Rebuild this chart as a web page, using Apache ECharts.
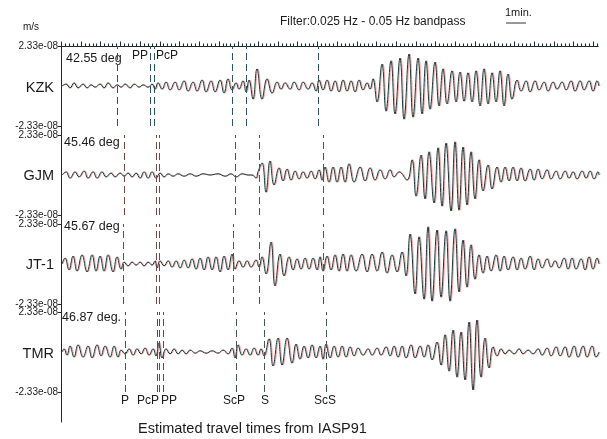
<!DOCTYPE html>
<html><head><meta charset="utf-8">
<script src="https://cdn.jsdelivr.net/npm/echarts@6/dist/echarts.min.js"></script>
<style>html,body{margin:0;padding:0;background:#fff}#c{width:607px;height:439px}</style>
</head><body><div id="c"></div>
<script>
// sampling: one sample index = 60/19.7 s (ruler: 1 min per major tick)
const DT = 60 / 19.7;
const CLIP = 2.33e-8; // m/s, amplitude = percent of clip level
const stations = ['KZK', 'GJM', 'JT-1', 'TMR'];
const distances = ['42.55 deg', '45.46 deg', '45.67 deg', '46.87 deg.'];

// [sample index, amplitude % of 2.33e-08 m/s] at successive peaks/troughs
const kzk = [[1,0],[5,5],[9,-5],[13,8],[17,-5],[22,5],[26,-5],[30,3],[34,-3],[39,5],[43,-5],[47,8],[52,-5],[56,3],[60,-3],[64,5],[69,-5],[73,5],[78,-3],[82,3],[87,-3],[91,5],[94,-8],[97,8],[101,-8],[105,10],[109,-10],[114,10],[118,-10],[123,13],[127,-13],[132,10],[136,-13],[141,15],[145,-15],[150,13],[154,-15],[159,15],[163,-18],[167,18],[171,-10],[175,8],[178,-8],[182,13],[185,-15],[188,15],[192,-33],[196,43],[201,-33],[206,18],[211,-18],[216,10],[220,-8],[224,8],[229,-8],[233,10],[238,-10],[242,10],[247,-8],[251,8],[255,-13],[258,15],[262,-10],[266,15],[270,-13],[274,13],[278,-15],[282,15],[286,-13],[290,13],[294,-15],[298,15],[302,-10],[306,8],[309,-8],[312,18],[316,-40],[321,55],[325,-63],[330,63],[334,-70],[339,70],[343,-83],[348,80],[352,-78],[357,70],[361,-70],[365,63],[369,-58],[374,60],[378,-50],[382,43],[386,-45],[391,38],[395,-40],[399,35],[403,-38],[407,33],[411,-40],[415,38],[419,-50],[423,43],[427,-45],[431,33],[435,-40],[439,38],[443,-50],[447,30],[451,-33],[456,15],[460,-13],[465,13],[469,-15],[474,13],[478,-10],[483,10],[487,-13],[492,10],[496,-8],[501,10],[505,-10],[510,13],[514,-13],[519,13],[523,-10],[528,13],[532,-13],[536,13],[538,0]];
const gjm = [[1,0],[5,8],[9,-8],[14,8],[18,-5],[23,10],[27,-8],[32,8],[36,-8],[41,8],[45,-5],[50,5],[54,-5],[59,5],[63,-3],[67,5],[71,-5],[75,5],[79,-8],[83,8],[87,-8],[91,8],[95,-8],[99,5],[103,-5],[107,3],[112,-3],[117,3],[123,-3],[129,3],[135,-3],[142,3],[149,0],[157,3],[164,-3],[170,3],[175,-5],[181,3],[187,0],[191,0],[195,-8],[197,8],[201,30],[205,-43],[209,35],[213,-25],[218,18],[222,-15],[226,15],[230,-13],[234,10],[238,-10],[242,8],[246,-8],[250,10],[254,-10],[258,13],[261,-13],[264,20],[268,-18],[272,20],[276,-18],[280,20],[284,-18],[288,28],[293,-18],[299,20],[304,-15],[309,18],[314,-13],[319,13],[324,-10],[329,13],[333,-5],[338,8],[346,-13],[351,38],[355,-53],[360,50],[364,-60],[368,58],[373,-70],[377,68],[381,-78],[385,80],[390,-90],[394,83],[398,-88],[402,70],[406,-75],[410,58],[414,-60],[418,38],[422,-40],[427,25],[431,-35],[436,20],[440,-18],[444,20],[448,-15],[452,20],[456,-15],[460,18],[464,-15],[469,15],[473,-13],[477,15],[481,-10],[486,13],[490,-10],[495,10],[499,-10],[504,10],[508,-8],[512,8],[516,-10],[521,10],[525,-8],[529,10],[533,-10],[537,8],[538,0]];
const jt1 = [[1,0],[4,15],[8,-15],[12,20],[16,-18],[21,23],[26,-20],[31,23],[35,-18],[39,20],[43,-18],[47,23],[52,-20],[56,18],[60,-13],[63,5],[67,-5],[71,5],[75,-3],[79,5],[83,-5],[87,5],[91,-3],[94,8],[96,-10],[99,8],[103,-5],[107,8],[111,-8],[115,8],[119,-10],[123,10],[127,-10],[131,13],[135,-13],[139,15],[143,-15],[147,18],[151,-15],[155,18],[159,-20],[163,20],[167,-15],[171,25],[174,-13],[178,8],[182,-8],[186,8],[190,-8],[195,10],[198,-8],[201,18],[205,-25],[210,55],[214,-55],[219,25],[223,-30],[228,18],[232,-15],[236,13],[240,-13],[244,15],[248,-13],[252,15],[256,-15],[259,18],[262,-18],[266,20],[270,-15],[274,23],[278,-18],[282,25],[286,-18],[290,23],[295,-18],[301,25],[306,-20],[311,25],[316,-18],[321,30],[326,-23],[331,23],[336,-20],[341,30],[345,-30],[349,75],[354,-75],[358,68],[363,-88],[367,93],[371,-93],[376,85],[380,-83],[385,83],[389,-93],[394,88],[398,-70],[402,60],[406,-58],[410,48],[414,-38],[418,23],[422,-23],[426,20],[430,-18],[435,23],[439,-18],[443,20],[447,-15],[452,18],[456,-15],[460,15],[464,-13],[469,20],[473,-15],[477,13],[481,-10],[486,13],[490,-8],[494,8],[498,-10],[503,15],[507,-13],[511,15],[515,-13],[520,13],[524,-15],[528,18],[532,-13],[536,15],[538,0]];
const tmr = [[1,0],[3,8],[6,-8],[9,15],[13,-13],[17,18],[22,-13],[27,15],[31,-15],[36,18],[40,-10],[44,15],[49,-13],[53,15],[57,-13],[60,5],[64,-5],[68,8],[72,-8],[76,8],[80,-5],[84,10],[88,-8],[92,8],[95,-10],[98,23],[101,-15],[105,8],[109,-5],[113,8],[117,-5],[121,5],[125,-5],[129,5],[134,-3],[139,3],[145,-3],[151,3],[157,-3],[162,5],[167,-5],[171,10],[174,-15],[177,18],[181,-8],[185,8],[189,-8],[193,10],[197,-8],[200,8],[203,-10],[208,33],[212,-35],[217,35],[221,-33],[226,35],[231,-28],[235,20],[239,-18],[243,15],[247,-15],[251,18],[255,-15],[259,15],[262,-18],[265,20],[269,-15],[273,15],[277,-13],[281,15],[285,-13],[289,13],[293,-10],[297,10],[302,-8],[307,8],[311,-8],[316,10],[320,-8],[325,13],[329,-10],[333,15],[337,-13],[341,15],[345,-15],[350,18],[354,-15],[359,15],[363,-13],[367,18],[371,-20],[376,25],[380,-33],[384,43],[388,-48],[392,55],[396,-63],[400,50],[404,-70],[408,75],[412,-95],[416,80],[420,-63],[424,35],[428,-40],[432,13],[436,-10],[440,8],[444,-5],[448,5],[453,-5],[458,8],[462,-5],[467,5],[472,-5],[477,8],[481,-8],[486,10],[490,-10],[495,13],[499,-10],[504,13],[508,-13],[513,15],[517,-13],[522,15],[526,-13],[531,15],[535,-13],[538,0]];

// estimated IASP91 arrivals: [phase, sample index]
const kzkPhases = [['P',56],['PP',89],['PcP',93],['ScP',171],['S',185],['ScS',257]];
const gjmPhases = [['P',63],['PcP',95],['PP',98],['ScP',174],['S',198],['ScS',262]];
const jt1Phases = [['P',62],['PcP',95],['PP',98],['ScP',172],['S',198],['ScS',262]];
const tmrPhases = [['P',64],['PcP',96],['',98],['PP',102],['ScP',175],['S',203],['ScS',265]];

// time ruler: 1 min major ticks, 5 divisions per minute
const RULER_LEN_S = 537 * DT;
const RULER_MAJOR_S = 60;
const RULER_DIVISIONS = 5;

const traces = [kzk, gjm, jt1, tmr];
const phases = [kzkPhases, gjmPhases, jt1Phases, tmrPhases];

// layout
const FONT = 'Liberation Sans, Arial, sans-serif';
const gridTops = [46, 135, 224, 312];
const gridH = 80, LEFT = 61, WIDTH = 539;
const XMAX = 539 * DT;
const lineColors = ['#2f5656', '#6e4a4a', '#6e4a4a', '#4a5454'];
const topLabelDx = {PP: -10, PcP: 13};
const bottomLabelDx = {P: 0, PcP: -9, PP: 6, ScP: -2, S: 1, ScS: -1};
const distPos = [[66, 59], [64, 143], [64, 227], [62, 318]];
const namePos = [[54, 88], [54, 176], [54, 265], [54, 354]];
const axisCol = '#1c2a2a';

const rulerTicks = [];
const stepS = RULER_MAJOR_S / RULER_DIVISIONS;
for (let k = 0; k * stepS <= RULER_LEN_S; k++) rulerTicks.push([k * stepS, k % RULER_DIVISIONS === 0 ? 1 : 0]);

const chart = echarts.init(document.getElementById('c'));
const nb = {outerBoundsMode: 'none', containLabel: false};
const grids = gridTops.map(t => Object.assign({left: LEFT, top: t, width: WIDTH, height: gridH}, nb));
grids.push(Object.assign({left: LEFT, top: 46, width: 537, height: 376}, nb)); // frame: long left axis line

const xAxes = grids.map((g, i) => ({type: 'value', gridIndex: i, min: 0, max: i === 4 ? 1 : XMAX, show: false}));
const fmt = v => v.toExponential(2).replace(/e([+-])(\d)$/, 'e$10$2');
const yAxes = gridTops.map((t, i) => ({
  type: 'value', gridIndex: i, min: -CLIP, max: CLIP,
  axisLine: {show: false},
  axisTick: {show: true, length: 3, customValues: [-CLIP, CLIP], lineStyle: {color: axisCol}},
  axisLabel: {show: true, customValues: [-CLIP, CLIP], formatter: fmt, fontSize: 10, color: '#222', margin: 3, fontFamily: FONT},
  splitLine: {show: false}
}));
yAxes.push({type: 'value', gridIndex: 4, min: 0, max: 1,
  axisLine: {show: true, lineStyle: {color: axisCol}},
  axisTick: {show: false}, axisLabel: {show: false}, splitLine: {show: false}});

const series = traces.map((tr, i) => ({
  type: 'line', xAxisIndex: i, yAxisIndex: i, showSymbol: false, symbol: 'none',
  smooth: 0.45,
  data: tr.map(([s, p]) => [s * DT, p / 100 * CLIP]),
  lineStyle: {color: '#1d3434', width: 1, shadowColor: 'rgba(215,70,70,0.45)', shadowOffsetX: 1, shadowBlur: 0},
  markLine: {
    silent: true, symbol: ['none', 'none'],
    lineStyle: {color: lineColors[i], type: [7, 4], width: 1},
    label: {show: false},
    data: phases[i].map(([name, s]) => {
      const item = {xAxis: s * DT};
      if (i === 0 && name in topLabelDx) {
        item.label = {show: true, formatter: name, position: 'end', offset: [topLabelDx[name], 21],
          fontSize: 12, color: '#1a1a1a', fontFamily: FONT};
      } else if (i === 3 && name) {
        item.label = {show: true, formatter: name, position: 'start', offset: [bottomLabelDx[name], -2],
          fontSize: 12, color: '#1a1a1a', fontFamily: FONT};
      }
      return item;
    })
  }
}));

// time ruler along the top edge of the first trace panel
series.push({
  type: 'custom', xAxisIndex: 0, yAxisIndex: 0, clip: false, silent: true,
  data: rulerTicks,
  renderItem: (params, api) => {
    const t = api.value(0), major = api.value(1);
    const p = api.coord([t, CLIP]);
    const x = Math.round(p[0]) + 0.5, y = Math.round(p[1]) + 0.5;
    const len = major ? 5 : 3;
    const children = [{type: 'line', shape: {x1: x, y1: y, x2: x, y2: y - len}, style: {stroke: axisCol, lineWidth: 1}}];
    if (params.dataIndex === 0) {
      const e = api.coord([RULER_LEN_S, CLIP]);
      children.push({type: 'line', shape: {x1: x, y1: y, x2: Math.round(e[0]) + 0.5, y2: y}, style: {stroke: axisCol, lineWidth: 1}});
    }
    return {type: 'group', children: children};
  }
});
series.push({type: 'line', xAxisIndex: 4, yAxisIndex: 4, data: [], silent: true});

const graphic = [
  {type: 'text', x: 23, y: 27, style: {text: 'm/s', font: '10px ' + FONT, fill: '#222', verticalAlign: 'middle'}},
  {type: 'text', x: 280, y: 22, style: {text: 'Filter:0.025 Hz - 0.05 Hz bandpass', font: '12px ' + FONT, fill: '#1a1a1a', verticalAlign: 'middle'}},
  {type: 'text', x: 505, y: 13, style: {text: '1min.', font: '11px ' + FONT, fill: '#1a1a1a', verticalAlign: 'middle'}},
  {type: 'line', shape: {x1: 506, y1: 23, x2: 526, y2: 23}, style: {stroke: '#333', lineWidth: 1}},
  {type: 'text', x: 138, y: 429, style: {text: 'Estimated travel times from IASP91', font: '14.5px ' + FONT, fill: '#1a1a1a', verticalAlign: 'middle'}}
];
distances.forEach((d, i) => graphic.push({type: 'text', x: distPos[i][0], y: distPos[i][1],
  style: {text: d, font: '12.5px ' + FONT, fill: '#1a1a1a', verticalAlign: 'middle'}}));
stations.forEach((s, i) => graphic.push({type: 'text', x: namePos[i][0], y: namePos[i][1],
  style: {text: s, font: '14.5px ' + FONT, fill: '#1a1a1a', align: 'right', verticalAlign: 'middle'}}));

chart.setOption({
  animation: false, backgroundColor: '#fff',
  grid: grids, xAxis: xAxes, yAxis: yAxes, series: series, graphic: graphic
});
</script></body></html>
